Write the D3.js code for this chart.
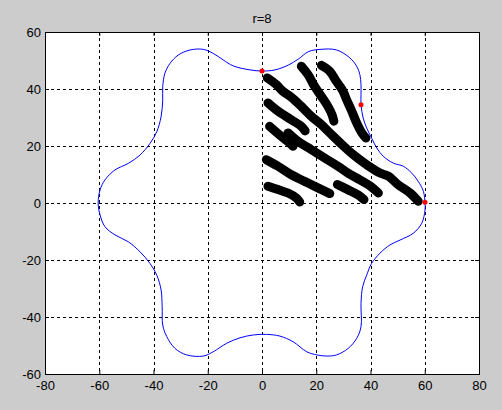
<!DOCTYPE html>
<html>
<head>
<meta charset="utf-8">
<script src="https://cdn.jsdelivr.net/npm/d3@7"></script>
<style>
  html, body { margin: 0; padding: 0; background: #cccccc; }
  svg { display: block; }
  .tick text { font-family: "Liberation Sans", Arial, sans-serif; font-size: 13px; fill: #000; }
</style>
</head>
<body>
<script>
// tick values
var xTicks = [-80, -60, -40, -20, 0, 20, 40, 60, 80];
var yTicks = [-60, -40, -20, 0, 20, 40, 60];

// blue boundary curve (counter-clockwise from (60,0))
var boundary = [
  [60.1, 0], [59.5, 4.1], [57.6, 7.6], [55.2, 10.5], [52.1, 12.9], [48.4, 14.0],
  [44.7, 16.4], [42.3, 19.3], [40.4, 22.8], [38.6, 26.3], [37.3, 29.8], [36.5, 34.5],
  [36.5, 38.0], [36.5, 41.5], [36.1, 45.0], [34.9, 48.0], [32.4, 50.9], [27.5, 53.7],
  [21.4, 53.9], [17.1, 53.1], [13.4, 50.5], [9.7, 48.4], [4.8, 46.7], [0, 46.3],
  [-4.4, 46.7], [-10.6, 48.1], [-14.3, 50.2], [-18.0, 52.5], [-21.6, 53.9], [-26.5, 53.7],
  [-30.9, 51.9], [-33.9, 49.0], [-35.8, 45.5], [-36.6, 40.8], [-36.6, 36.1], [-37.2, 30.3],
  [-38.8, 25.0], [-41.3, 20.9], [-45.0, 16.8], [-49.3, 13.9], [-54.2, 11.6], [-57.9, 8.1],
  [-59.7, 4.6], [-60.4, 0], [-59.7, -4.2], [-57.9, -8.3], [-54.2, -11.2], [-49.3, -13.6],
  [-45.0, -17.1], [-41.3, -21.2], [-38.8, -25.3], [-37.2, -30.5], [-36.8, -36.4], [-36.6, -42.8],
  [-35.1, -46.9], [-32.1, -51.0], [-27.8, -53.3], [-21.6, -53.7], [-18.0, -52.2], [-13.0, -49.2],
  [-8.1, -47.3], [-3.2, -46.3], [1.7, -46.1], [6.6, -46.7], [11.5, -48.7], [16.5, -52.2],
  [20.2, -53.3], [23.9, -53.7], [27.5, -53.3], [31.8, -51.0], [34.9, -47.5], [36.5, -43.4],
  [36.5, -35.2], [37.1, -29.4], [38.6, -25.3], [40.4, -21.2], [43.5, -17.6], [47.2, -14.7],
  [50.9, -13.0], [55.8, -10.6], [58.9, -7.1], [60.1, -2.5]
];

// thick black strokes
var strokeL = [[1.95, 43.9], [5.3, 41.5], [7.7, 39.2], [10.8, 37.1], [14.5, 33.9], [18.2, 30.4],
  [21.9, 27.5], [25.0, 24.6], [28.8, 21.1], [33.7, 16.9], [38.6, 13.4], [43.5, 10.5],
  [46.6, 9.4], [50.2, 6.4], [54.6, 3.5], [57.6, 0.6]];
var strokeB = [[14.5, 48.0], [17.0, 45.0], [19.4, 40.9], [21.9, 37.4], [24.3, 33.9], [25.8, 31.0], [26.5, 28.7]];
var strokeC = [[21.9, 48.3], [25.0, 46.2], [27.4, 42.7], [29.9, 39.2], [31.2, 36.2], [33.1, 32.2],
  [34.9, 28.1], [36.8, 24.6], [38.3, 22.8]];
var strokeD = [[2.2, 35.1], [5.9, 32.2], [10.8, 29.2], [14.5, 26.9], [15.9, 25.3]];
var strokeE = [[2.8, 26.9], [7.1, 23.4], [10.8, 20.5], [11.4, 19.9]];
var strokeF = [[9.6, 24.6], [13.3, 21.6], [18.2, 18.7], [23.1, 15.8], [28.0, 12.9], [31.7, 10.5],
  [36.1, 8.1], [39.8, 6.0], [42.9, 3.5]];
var strokeG = [[1.6, 15.2], [5.9, 12.9], [10.8, 9.9], [15.7, 7.6], [20.6, 5.3], [25.0, 3.3]];
var strokeH = [[2.2, 5.9], [5.9, 4.7], [9.6, 3.5], [12.6, 1.8], [13.9, 0.35]];
var strokeI = [[27.8, 6.5], [31.8, 4.6], [35.5, 2.8], [37.6, 1.2]];
var strokes = [strokeL, strokeB, strokeC, strokeD, strokeE, strokeF, strokeG, strokeH, strokeI];

// red markers
var redPoints = [[0, 46.3], [36.5, 34.5], [60.1, 0.3]];

var W = 502, H = 410;
var x = d3.scaleLinear().domain([-80, 80]).range([45, 479]);
var y = d3.scaleLinear().domain([-60, 60]).range([374, 32]);

var svg = d3.select("body").append("svg").attr("width", W).attr("height", H);

// white plot area
svg.append("rect")
  .attr("x", x(-80)).attr("y", y(60))
  .attr("width", x(80) - x(-80)).attr("height", y(-60) - y(60))
  .attr("fill", "#fff");

// dashed grid
var grid = svg.append("g").attr("stroke", "#000").attr("stroke-width", 1)
  .attr("stroke-dasharray", "3,3").attr("shape-rendering", "crispEdges");
grid.selectAll("line.vx").data(xTicks.slice(1, -1)).enter().append("line")
  .attr("x1", function (d) { return Math.round(x(d)) + 0.5; })
  .attr("x2", function (d) { return Math.round(x(d)) + 0.5; })
  .attr("y1", y(60)).attr("y2", y(-60));
grid.selectAll("line.hy").data(yTicks.slice(1, -1)).enter().append("line")
  .attr("y1", function (d) { return Math.round(y(d)) + 0.5; })
  .attr("y2", function (d) { return Math.round(y(d)) + 0.5; })
  .attr("x1", x(-80)).attr("x2", x(80));

var line = d3.line().x(function (d) { return x(d[0]); }).y(function (d) { return y(d[1]); });

// black strokes
svg.append("g").selectAll("path").data(strokes).enter().append("path")
  .attr("d", line.curve(d3.curveCatmullRom))
  .attr("fill", "none").attr("stroke", "#000").attr("stroke-width", 9)
  .attr("stroke-linecap", "round").attr("stroke-linejoin", "round");

// blue boundary
svg.append("path")
  .attr("d", d3.line().x(function (d) { return x(d[0]); }).y(function (d) { return y(d[1]); })
    .curve(d3.curveCatmullRomClosed)(boundary))
  .attr("fill", "none").attr("stroke", "#0000ff").attr("stroke-width", 1);

// red markers
svg.append("g").selectAll("circle").data(redPoints).enter().append("circle")
  .attr("cx", function (d) { return x(d[0]); })
  .attr("cy", function (d) { return y(d[1]); })
  .attr("r", 2.5).attr("fill", "#ff0000");

// axes, ticks inward like matlab
var fmt = function (d) { return String(d); };
svg.append("g").attr("transform", "translate(0," + y(-60) + ")")
  .call(d3.axisBottom(x).tickValues(xTicks).tickFormat(fmt).tickSizeInner(-4).tickSizeOuter(0).tickPadding(7));
svg.append("g").attr("transform", "translate(0," + y(60) + ")")
  .call(d3.axisTop(x).tickValues(xTicks).tickFormat("").tickSizeInner(-4).tickSizeOuter(0));
svg.append("g").attr("transform", "translate(" + x(-80) + ",0)")
  .call(d3.axisLeft(y).tickValues(yTicks).tickFormat(fmt).tickSizeInner(-4).tickSizeOuter(0).tickPadding(4));
svg.append("g").attr("transform", "translate(" + x(80) + ",0)")
  .call(d3.axisRight(y).tickValues(yTicks).tickFormat("").tickSizeInner(-4).tickSizeOuter(0));
svg.selectAll(".domain").remove();
svg.selectAll(".tick line").attr("stroke", "#000");

// box
svg.append("rect")
  .attr("x", x(-80) + 0.5).attr("y", y(60) + 0.5)
  .attr("width", x(80) - x(-80)).attr("height", y(-60) - y(60))
  .attr("fill", "none").attr("stroke", "#000").attr("stroke-width", 1);

// title
svg.append("text")
  .attr("x", x(0)).attr("y", 23)
  .attr("text-anchor", "middle")
  .attr("font-family", "Liberation Sans, Arial, sans-serif")
  .attr("font-size", 13)
  .text("r=8");
</script>
</body>
</html>
